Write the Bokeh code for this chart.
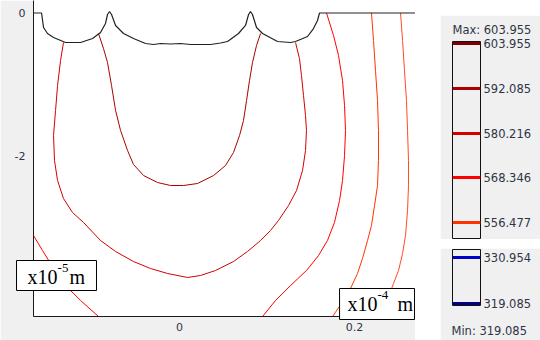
from bokeh.plotting import figure
from bokeh.layouts import row, column
from bokeh.models import (Range1d, FixedTicker, Title, Spacer, NumeralTickFormatter,
                          ColumnDataSource)
from bokeh.core.properties import value
from bokeh.embed import file_html
from bokeh.resources import INLINE

# ---------------- data (x in 1e-4 m, y in 1e-5 m) ----------------
x_ticks = [0, 0.2]
y_ticks = [0, -2]

# top (free) boundary of the domain
boundary_x = [-0.1669, -0.1577, -0.1554, -0.1509, -0.1440, -0.1303, -0.1131, -0.0994, -0.0903,
              -0.0846, -0.0823, -0.0800, -0.0777, -0.0731, -0.0640, -0.0526, -0.0389, -0.0297,
              -0.0217, -0.0103, 0.0011, 0.0126, 0.0240, 0.0354, 0.0469, 0.0549, 0.0674, 0.0754,
              0.0789, 0.0811, 0.0834, 0.0880, 0.0949, 0.1120, 0.1269, 0.1326, 0.1463, 0.1531,
              0.1577, 0.1600, 0.2697]
boundary_y = [0.0, 0.0, -0.204, -0.288, -0.344, -0.414, -0.414, -0.358, -0.274,
              -0.147, -0.021, 0.021, -0.021, -0.175, -0.288, -0.358, -0.428, -0.442,
              -0.428, -0.435, -0.428, -0.442, -0.442, -0.442, -0.421, -0.400, -0.288, -0.175,
              -0.021, 0.021, -0.021, -0.204, -0.288, -0.400, -0.414, -0.400, -0.330, -0.218,
              -0.105, 0.0, 0.0]

# contour levels drawn in the field
contour_levels = [592.085, 580.216, 568.346, 568.346, 556.477, 544.608]
contour_xs = [
    [-0.0926, -0.0869, -0.0823, -0.0777, -0.0731, -0.0674, -0.0594, -0.0526, -0.0411, -0.0251,
     -0.0103, 0.0046, 0.0206, 0.0389, 0.0526, 0.0617, 0.0686, 0.0731, 0.0766, 0.0800, 0.0834,
     0.0880, 0.0926],
    [-0.1326, -0.1360, -0.1394, -0.1417, -0.1440, -0.1429, -0.1394, -0.1326, -0.1223, -0.1097,
     -0.0903, -0.0731, -0.0526, -0.0331, -0.0137, 0.0091, 0.0240, 0.0411, 0.0617, 0.0777,
     0.0926, 0.1040, 0.1131, 0.1246, 0.1337, 0.1406, 0.1440, 0.1451, 0.1440, 0.1417, 0.1394,
     0.1371, 0.1326],
    [0.1680, 0.1760, 0.1817, 0.1863, 0.1886, 0.1897, 0.1886, 0.1863, 0.1829, 0.1771, 0.1691,
     0.1589, 0.1451, 0.1269, 0.1097, 0.0949],
    [-0.1669, -0.1566, -0.1474, -0.1383, -0.1280, -0.1131, -0.0926],
    [0.2194, 0.2217, 0.2240, 0.2263, 0.2274, 0.2274, 0.2263, 0.2229, 0.2194, 0.2149, 0.2091,
     0.2034, 0.1954, 0.1874, 0.1749],
    [0.2526, 0.2549, 0.2571, 0.2594, 0.2606, 0.2617, 0.2617, 0.2606, 0.2583, 0.2549, 0.2503,
     0.2446, 0.2389, 0.2331],
]
contour_ys = [
    [-0.288, -0.498, -0.695, -1.018, -1.368, -1.649, -1.930, -2.126, -2.281, -2.379, -2.421,
     -2.421, -2.393, -2.281, -2.140, -1.958, -1.719, -1.509, -1.228, -0.947, -0.695, -0.456,
     -0.288],
    [-0.414, -0.667, -1.018, -1.368, -1.719, -2.070, -2.351, -2.604, -2.800, -2.940, -3.193,
     -3.347, -3.488, -3.586, -3.656, -3.712, -3.684, -3.614, -3.488, -3.347, -3.193, -3.053,
     -2.912, -2.702, -2.491, -2.211, -1.930, -1.649, -1.439, -1.158, -0.877, -0.639, -0.414],
    [0.0, -0.316, -0.596, -0.947, -1.298, -1.649, -2.000, -2.351, -2.632, -2.940, -3.193,
     -3.404, -3.614, -3.825, -4.035, -4.260],
    [-3.123, -3.333, -3.516, -3.684, -3.853, -4.035, -4.260],
    [0.0, -0.386, -0.807, -1.228, -1.649, -2.070, -2.421, -2.702, -2.982, -3.193, -3.446,
     -3.656, -3.867, -4.035, -4.260],
    [0.0, -0.386, -0.807, -1.228, -1.649, -2.070, -2.421, -2.772, -3.123, -3.375, -3.614,
     -3.796, -3.979, -4.260],
]

# legend levels
upper_levels = [603.955, 592.085, 580.216, 568.346, 556.477]
upper_colors = ["#800000", "#aa0000", "#d40000", "#ff0000", "#ff3300"]
lower_levels = [330.954, 319.085]
lower_colors = ["#0000c8", "#000080"]
v_max = 603.955
v_min = 319.085

level_color = dict(zip(upper_levels, upper_colors))
level_color[544.608] = "#ff4a26"
contour_colors = [level_color[v] for v in contour_levels]

# unit annotations (boxes + text pieces)
unit_box_left = [-0.1863, 0.1829]
unit_box_right = [-0.0949, 0.2686]
unit_box_top = [-3.4737, -3.8667]
unit_box_bottom = [-3.8947, -4.3018]
unit_anchor_x = [-0.1737, 0.1920]
unit_anchor_y = [-3.7825, -4.1614]
unit_exp = ["-5", "-4"]
unit_m_offset = [42, 50]

TEXT_COLOR = "#2f3546"
GRAY = "#f0f0f0"

# ---------------- main plot ----------------
p = figure(width=415, height=340, x_range=Range1d(-0.1669, 0.2697),
           y_range=Range1d(-4.2596, 0.1754), output_backend="svg", toolbar_location=None,
           min_border_left=33, min_border_right=0, min_border_top=0, min_border_bottom=24)
p.border_fill_color = GRAY
p.background_fill_color = "white"
p.outline_line_color = None
p.xgrid.visible = False
p.ygrid.visible = False
for ax in (p.xaxis[0], p.yaxis[0]):
    ax.major_tick_in = 0
    ax.major_tick_out = 0
    ax.minor_tick_in = 0
    ax.minor_tick_out = 0
    ax.axis_line_color = "#1a1a1a"
    ax.major_label_text_color = TEXT_COLOR
    ax.major_label_text_font = "DejaVu Sans"
    ax.major_label_text_font_size = "11px"
p.xaxis.ticker = FixedTicker(ticks=x_ticks)
p.yaxis.ticker = FixedTicker(ticks=y_ticks)
p.yaxis.major_label_overrides = {-2: "-2", 0: "0"}
p.xaxis.major_label_standoff = 6
p.yaxis.major_label_standoff = 8

src = ColumnDataSource(dict(xs=contour_xs, ys=contour_ys, color=contour_colors))
p.multi_line(xs="xs", ys="ys", line_color="color", line_width=1.0, source=src)
p.line(boundary_x, boundary_y, line_color="#222222", line_width=1.2)

usrc = ColumnDataSource(dict(left=unit_box_left, right=unit_box_right, top=unit_box_top,
                             bottom=unit_box_bottom, x=unit_anchor_x, y=unit_anchor_y,
                             exp=unit_exp, moff=unit_m_offset))
p.quad(left="left", right="right", top="top", bottom="bottom", fill_color="white",
       line_color="black", line_width=1, source=usrc, level="overlay")
p.text(x="x", y="y", text=value("x10"), y_offset=-6, text_font=value("Liberation Serif"),
       text_font_size="20px", text_color="black", text_baseline="alphabetic",
       source=usrc, level="overlay")
p.text(x="x", y="y", text="exp", x_offset=30, y_offset=-15, text_font=value("Liberation Serif"),
       text_font_size="13px", text_color="black", text_baseline="alphabetic",
       source=usrc, level="overlay")
p.text(x="x", y="y", text=value("m"), x_offset="moff", y_offset=-6,
       text_font=value("Liberation Serif"), text_font_size="20px", text_color="black",
       text_baseline="alphabetic", source=usrc, level="overlay")

# ---------------- legend: upper part ----------------
lt = figure(width=100, height=224, x_range=Range1d(0, 1), y_range=Range1d(552.26, 604.48),
            output_backend="svg", toolbar_location=None, x_axis_location=None,
            y_axis_location="right", min_border_left=12, min_border_right=60,
            min_border_top=25, min_border_bottom=1)
lt.add_layout(Title(text=f"Max: {v_max:.3f}", text_font="DejaVu Sans", text_font_size="11.5px",
                    text_font_style="normal", text_color=TEXT_COLOR, align="left",
                    standoff=10), "above")
lt.hspan(y=upper_levels, line_color=upper_colors, line_width=3)

# ---------------- legend: lower part ----------------
lb = figure(width=100, height=92, x_range=Range1d(0, 1), y_range=Range1d(318.58, 332.97),
            output_backend="svg", toolbar_location=None, x_axis_location=None,
            y_axis_location="right", min_border_left=12, min_border_right=60,
            min_border_top=1, min_border_bottom=35)
lb.hspan(y=lower_levels, line_color=lower_colors, line_width=3)
lb.text(x=[0], y=[v_min], text=[f"Min: {v_min:.3f}"], x_offset=-1, y_offset=27,
        text_font=value("DejaVu Sans"), text_font_size="11.5px", text_color=TEXT_COLOR,
        text_baseline="middle", text_align="left", level="overlay")

for f, lev in ((lt, upper_levels), (lb, lower_levels)):
    f.border_fill_color = GRAY
    f.background_fill_color = GRAY
    f.outline_line_color = "#111111"
    f.outline_line_width = 1
    f.xgrid.visible = False
    f.ygrid.visible = False
    ax = f.yaxis[0]
    ax.ticker = FixedTicker(ticks=lev)
    ax.formatter = NumeralTickFormatter(format="0.000")
    ax.axis_line_color = None
    ax.major_tick_in = 0
    ax.major_tick_out = 0
    ax.minor_tick_in = 0
    ax.minor_tick_out = 0
    ax.major_label_standoff = 3
    ax.major_label_text_color = TEXT_COLOR
    ax.major_label_text_font = "DejaVu Sans"
    ax.major_label_text_font_size = "11.5px"

legend = column(Spacer(height=15), lt, Spacer(height=9), lb, spacing=0)
layout = row(p, Spacer(width=25), legend, spacing=0)

open("out.html", "w").write(file_html(layout, INLINE))
